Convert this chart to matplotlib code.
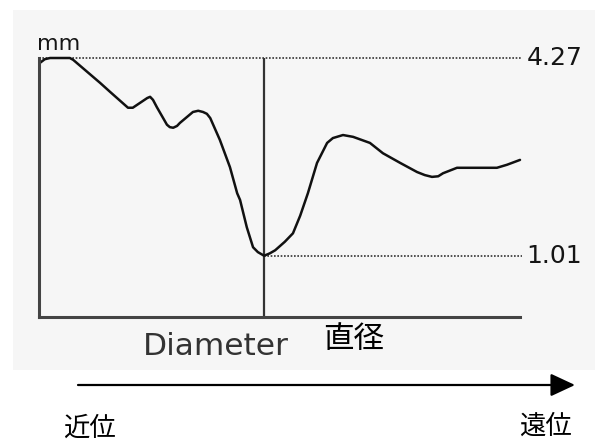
import matplotlib
matplotlib.use("Agg")
import matplotlib.pyplot as plt
from matplotlib.patches import Rectangle, FancyArrowPatch

# relative position along the vessel (0 = proximal, 100 = distal)
position = [0.2, 1.2, 2.3, 6.4, 7.1, 12.7, 14.8, 18.5, 19.5, 21.0, 22.5, 23.1,
            23.7, 24.5, 26.6, 27.2, 27.9, 28.7, 29.3, 30.8, 32.0, 33.1, 34.1,
            34.9, 35.6, 37.6, 39.7, 41.2, 41.8, 43.2, 44.5, 45.5, 46.8, 48.0,
            49.1, 51.1, 52.8, 54.3, 55.9, 57.8, 59.9, 61.1, 63.2, 65.3, 68.8,
            71.5, 75.1, 78.6, 80.2, 81.7, 83.0, 84.0, 86.9, 95.2, 97.3, 100.0]
# diameter (mm)
diameter = [4.19, 4.25, 4.27, 4.27, 4.24, 3.86, 3.71, 3.45, 3.45, 3.53, 3.61, 3.63,
            3.58, 3.46, 3.17, 3.13, 3.12, 3.15, 3.20, 3.30, 3.38, 3.40, 3.38,
            3.35, 3.28, 2.92, 2.47, 2.04, 1.93, 1.48, 1.15, 1.07, 1.01, 1.05,
            1.10, 1.24, 1.38, 1.67, 2.04, 2.54, 2.87, 2.95, 3.00, 2.97, 2.87,
            2.70, 2.54, 2.39, 2.34, 2.31, 2.32, 2.37, 2.46, 2.46, 2.51, 2.59]

max_label = "4.27"
min_label = "1.01"
max_val = 4.27
min_val = 1.01
min_pos = 46.8

W, H = 600, 446
fig = plt.figure(figsize=(6, 4.46), dpi=100)
fig.patch.set_facecolor("white")

# light gray panel
fig.patches.append(Rectangle((13 / W, 1 - 370 / H), (595 - 13) / W, (370 - 10) / H,
                             transform=fig.transFigure, facecolor="#f6f6f6",
                             edgecolor="none", zorder=-5))

ax = fig.add_axes([39 / W, 1 - 317 / H, (520 - 39) / W, (317 - 58) / H])
ax.set_zorder(2)
ax.set_facecolor("none")
ax.set_xlim(0, 100)
ax.set_ylim(0, 4.27)
for s in ["top", "right"]:
    ax.spines[s].set_visible(False)
for s in ["left", "bottom"]:
    ax.spines[s].set_color("#444444")
    ax.spines[s].set_linewidth(2.2)
ax.set_xticks([])
ax.set_yticks([])

# reference lines
ax.plot([0, 100.4], [max_val, max_val], color="#333333", lw=1.2,
        linestyle=(0, (1, 1)), clip_on=False)
ax.plot([min_pos, 100.4], [min_val, min_val], color="#333333", lw=1.2,
        linestyle=(0, (1, 1)), clip_on=False)
ax.plot([min_pos, min_pos], [0, max_val], color="#333333", lw=1.6)

ax.plot(position, diameter, color="#111111", lw=1.8, clip_on=False,
        solid_joinstyle="round", solid_capstyle="round")

ax.text(101.4, max_val, max_label, ha="left", va="center", fontsize=18,
        color="#151515", family="DejaVu Sans", clip_on=False)
ax.text(101.4, min_val, min_label, ha="left", va="center", fontsize=18,
        color="#151515", family="DejaVu Sans", clip_on=False)
fig.text(37 / W, 1 - 50 / H, "mm", ha="left", va="baseline", fontsize=16,
         color="#151515", family="DejaVu Sans")

fig.text(143 / W, 1 - 355 / H, "Diameter", ha="left", va="baseline",
         fontsize=22.5, color="#333333", family="DejaVu Sans")
fig.text(354 / W, 1 - 340 / H, "直径", ha="center", va="center", fontsize=22,
         color="black", family=["Noto Sans CJK JP", "DejaVu Sans"])

# arrow
arr = FancyArrowPatch((78 / W, 1 - 385 / H), (575 / W, 1 - 385 / H),
                      transform=fig.transFigure,
                      arrowstyle="-|>,head_length=15,head_width=7",
                      mutation_scale=1, color="black", lw=1.6,
                      shrinkA=0, shrinkB=0)
fig.patches.append(arr)

fig.text(89 / W, 1 - 428 / H, "近位", ha="center", va="center", fontsize=19,
         color="black", family=["Noto Sans CJK JP", "DejaVu Sans"])
fig.text(545 / W, 1 - 426 / H, "遠位", ha="center", va="center", fontsize=19,
         color="black", family=["Noto Sans CJK JP", "DejaVu Sans"])

fig.savefig("out.png", dpi=100, facecolor="white")
